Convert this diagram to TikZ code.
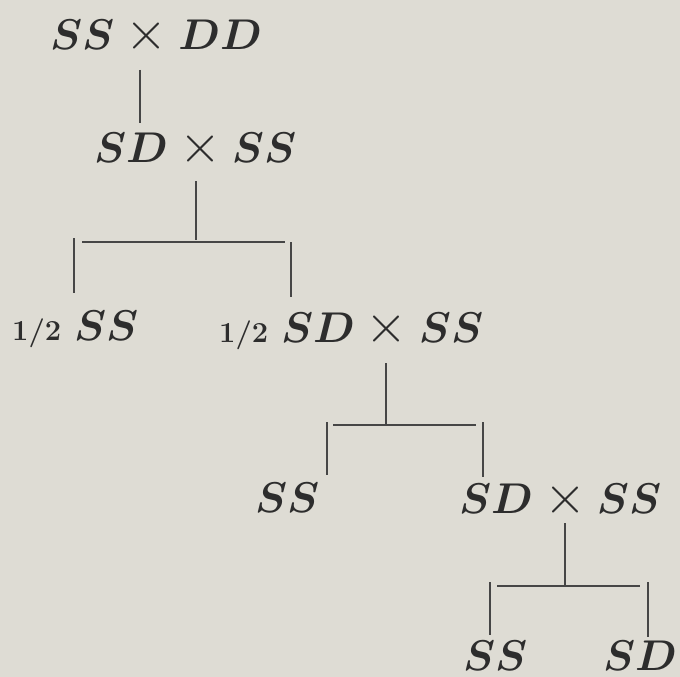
\documentclass[tikz,border=0pt]{standalone}
\usepackage{fix-cm}
\newcommand{\crs}{\mathbin{\mbox{\fontsize{54}{56}\selectfont\unboldmath$\times$}}}
\begin{document}
\begin{tikzpicture}[x=1pt,y=-1pt,
  lbl/.style={anchor=base west,inner sep=0pt,text=inkc,font=\fontsize{43}{50}\selectfont\boldmath},
  ln/.style={draw=linec,line width=1.4pt}]
\definecolor{paper}{RGB}{222,220,212}
\definecolor{inkc}{RGB}{45,45,45}
\definecolor{linec}{RGB}{70,70,70}
\newcommand{\hf}{\textbf{\fontsize{29}{30}\selectfont 1/2}\hspace{13pt}}
\fill[paper] (0,0) rectangle (680,677);
\useasboundingbox (0,0) rectangle (680,677);

% crosses and offspring
\node[lbl] (p1) at (50,50) {$SS\crs DD$};
\node[lbl] (p2) at (94,162) {$SD\crs SS$};
\node[lbl] (h1) at (12,340) {\hf$SS$};
\node[lbl] (h2) at (219,342) {\hf$SD\crs SS$};
\node[lbl] (g1) at (255,512) {$SS$};
\node[lbl] (g2) at (459,513) {$SD\crs SS$};
\node[lbl] (f1) at (463,670) {$SS$};
\node[lbl] (f2) at (603,670) {$SD$};

% line end points
\coordinate (a1) at (140,70);  \coordinate (a2) at (140,123);
\coordinate (b1) at (196,181); \coordinate (b2) at (196,240);
\coordinate (bl) at (82,242);  \coordinate (br) at (285,242);
\coordinate (bL1) at (74,238); \coordinate (bL2) at (74,293);
\coordinate (bR1) at (291,242); \coordinate (bR2) at (291,297);
\coordinate (c1) at (386,363); \coordinate (c2) at (386,424);
\coordinate (cl) at (333,425); \coordinate (cr) at (476,425);
\coordinate (cL1) at (327,422); \coordinate (cL2) at (327,475);
\coordinate (cR1) at (483,422); \coordinate (cR2) at (483,477);
\coordinate (d1) at (565,523); \coordinate (d2) at (565,585);
\coordinate (dl) at (497,586); \coordinate (dr) at (640,586);
\coordinate (dL1) at (490,582); \coordinate (dL2) at (490,635);
\coordinate (dR1) at (648,582); \coordinate (dR2) at (648,637);

\draw[ln] (a1) -- (a2);
\draw[ln] (b1) -- (b2);
\draw[ln] (bl) -- (br);
\draw[ln] (bL1) -- (bL2);
\draw[ln] (bR1) -- (bR2);
\draw[ln] (c1) -- (c2);
\draw[ln] (cl) -- (cr);
\draw[ln] (cL1) -- (cL2);
\draw[ln] (cR1) -- (cR2);
\draw[ln] (d1) -- (d2);
\draw[ln] (dl) -- (dr);
\draw[ln] (dL1) -- (dL2);
\draw[ln] (dR1) -- (dR2);
\end{tikzpicture}
\end{document}
